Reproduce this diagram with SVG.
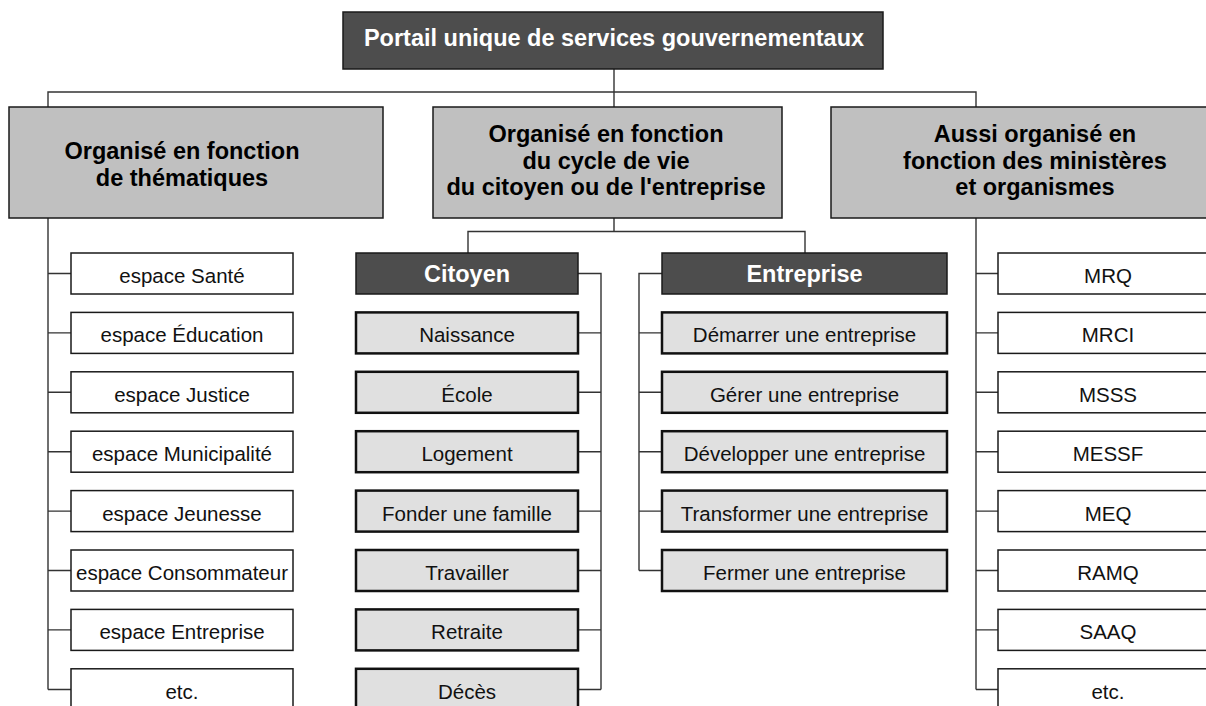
<svg xmlns="http://www.w3.org/2000/svg" width="1206" height="706" viewBox="0 0 1206 706">
<style>
.bg{fill:#ffffff}
.dark{fill:#4d4d4d;stroke:#1a1a1a;stroke-width:1.5}
.head{fill:#c0c0c0;stroke:#1a1a1a;stroke-width:1.5}
.item{fill:#ffffff;stroke:#1a1a1a;stroke-width:1.5}
.life{fill:#e0e0e0;stroke:#111111;stroke-width:2.5}
.conn{fill:none;stroke:#333333;stroke-width:1.4}
text{font-family:"Liberation Sans",Arial,sans-serif;text-anchor:middle}
.b{font-weight:bold;font-size:23.5px;fill:#000000}
.bw{font-weight:bold;font-size:23.5px;fill:#ffffff}
.r{font-size:20.5px;fill:#111111}
</style>
<rect class="bg" x="0" y="0" width="1206" height="706"/>
<g id="connectors">
<path class="conn" d="M614,69 V107 M48,107 V92 H976 V107"/>
<path class="conn" d="M48,218 V689.5 M48,273.5 H71 M48,332.9 H71 M48,392.3 H71 M48,451.7 H71 M48,511.1 H71 M48,570.5 H71 M48,629.9 H71 M48,689.5 H71"/>
<path class="conn" d="M976,218 V689.5 M976,273.5 H998 M976,332.9 H998 M976,392.3 H998 M976,451.7 H998 M976,511.1 H998 M976,570.5 H998 M976,629.9 H998 M976,689.5 H998"/>
<path class="conn" d="M614,218 V231.5 M468,253 V231.5 H805 V253"/>
<path class="conn" d="M578,273.5 H601 V689.5 M578,332.9 H601 M578,392.3 H601 M578,451.7 H601 M578,511.1 H601 M578,570.5 H601 M578,629.9 H601 M578,689.5 H601"/>
<path class="conn" d="M662,273.5 H639 V570.5 M662,332.9 H639 M662,392.3 H639 M662,451.7 H639 M662,511.1 H639 M662,570.5 H639"/>
</g>
<g id="portail"><rect class="dark" x="343" y="12" width="540" height="57"/><text class="bw" x="614" y="46">Portail unique de services gouvernementaux</text></g>
<g id="thematiques"><rect class="head" x="9" y="107" width="374" height="111"/><text class="b" x="182" y="159">Organisé en fonction</text><text class="b" x="182" y="186">de thématiques</text></g>
<g id="cycle"><rect class="head" x="433" y="107" width="349" height="111"/><text class="b" x="606" y="142">Organisé en fonction</text><text class="b" x="606" y="168.5">du cycle de vie</text><text class="b" x="606" y="195">du citoyen ou de l'entreprise</text></g>
<g id="ministeres"><rect class="head" x="831" y="107" width="409" height="111"/><text class="b" x="1035" y="142">Aussi organisé en</text><text class="b" x="1035" y="168.5">fonction des ministères</text><text class="b" x="1035" y="195">et organismes</text></g>

<g id="t1"><rect class="item" x="71" y="253" width="222" height="41"/><text class="r" x="182" y="283">espace Santé</text></g>
<g id="t2"><rect class="item" x="71" y="312.4" width="222" height="41"/><text class="r" x="182" y="342.4">espace Éducation</text></g>
<g id="t3"><rect class="item" x="71" y="371.8" width="222" height="41"/><text class="r" x="182" y="401.8">espace Justice</text></g>
<g id="t4"><rect class="item" x="71" y="431.2" width="222" height="41"/><text class="r" x="182" y="461.2">espace Municipalité</text></g>
<g id="t5"><rect class="item" x="71" y="490.6" width="222" height="41"/><text class="r" x="182" y="520.6">espace Jeunesse</text></g>
<g id="t6"><rect class="item" x="71" y="550" width="222" height="41"/><text class="r" x="182" y="580">espace Consommateur</text></g>
<g id="t7"><rect class="item" x="71" y="609.4" width="222" height="41"/><text class="r" x="182" y="639.4">espace Entreprise</text></g>
<g id="t8"><rect class="item" x="71" y="668.8" width="222" height="41"/><text class="r" x="182" y="698.8">etc.</text></g>

<g id="citoyen"><rect class="dark" x="356" y="253" width="222" height="41"/><text class="bw" x="467" y="282">Citoyen</text></g>
<g id="c1"><rect class="life" x="356" y="312.4" width="222" height="41"/><text class="r" x="467" y="342.4">Naissance</text></g>
<g id="c2"><rect class="life" x="356" y="371.8" width="222" height="41"/><text class="r" x="467" y="401.8">École</text></g>
<g id="c3"><rect class="life" x="356" y="431.2" width="222" height="41"/><text class="r" x="467" y="461.2">Logement</text></g>
<g id="c4"><rect class="life" x="356" y="490.6" width="222" height="41"/><text class="r" x="467" y="520.6">Fonder une famille</text></g>
<g id="c5"><rect class="life" x="356" y="550" width="222" height="41"/><text class="r" x="467" y="580">Travailler</text></g>
<g id="c6"><rect class="life" x="356" y="609.4" width="222" height="41"/><text class="r" x="467" y="639.4">Retraite</text></g>
<g id="c7"><rect class="life" x="356" y="668.8" width="222" height="41"/><text class="r" x="467" y="698.8">Décès</text></g>

<g id="entreprise"><rect class="dark" x="662" y="253" width="285" height="41"/><text class="bw" x="804.5" y="282">Entreprise</text></g>
<g id="e1"><rect class="life" x="662" y="312.4" width="285" height="41"/><text class="r" x="804.5" y="342.4">Démarrer une entreprise</text></g>
<g id="e2"><rect class="life" x="662" y="371.8" width="285" height="41"/><text class="r" x="804.5" y="401.8">Gérer une entreprise</text></g>
<g id="e3"><rect class="life" x="662" y="431.2" width="285" height="41"/><text class="r" x="804.5" y="461.2">Développer une entreprise</text></g>
<g id="e4"><rect class="life" x="662" y="490.6" width="285" height="41"/><text class="r" x="804.5" y="520.6">Transformer une entreprise</text></g>
<g id="e5"><rect class="life" x="662" y="550" width="285" height="41"/><text class="r" x="804.5" y="580">Fermer une entreprise</text></g>

<g id="m1"><rect class="item" x="998" y="253" width="221" height="41"/><text class="r" x="1108" y="283">MRQ</text></g>
<g id="m2"><rect class="item" x="998" y="312.4" width="221" height="41"/><text class="r" x="1108" y="342.4">MRCI</text></g>
<g id="m3"><rect class="item" x="998" y="371.8" width="221" height="41"/><text class="r" x="1108" y="401.8">MSSS</text></g>
<g id="m4"><rect class="item" x="998" y="431.2" width="221" height="41"/><text class="r" x="1108" y="461.2">MESSF</text></g>
<g id="m5"><rect class="item" x="998" y="490.6" width="221" height="41"/><text class="r" x="1108" y="520.6">MEQ</text></g>
<g id="m6"><rect class="item" x="998" y="550" width="221" height="41"/><text class="r" x="1108" y="580">RAMQ</text></g>
<g id="m7"><rect class="item" x="998" y="609.4" width="221" height="41"/><text class="r" x="1108" y="639.4">SAAQ</text></g>
<g id="m8"><rect class="item" x="998" y="668.8" width="221" height="41"/><text class="r" x="1108" y="698.8">etc.</text></g>
</svg>
